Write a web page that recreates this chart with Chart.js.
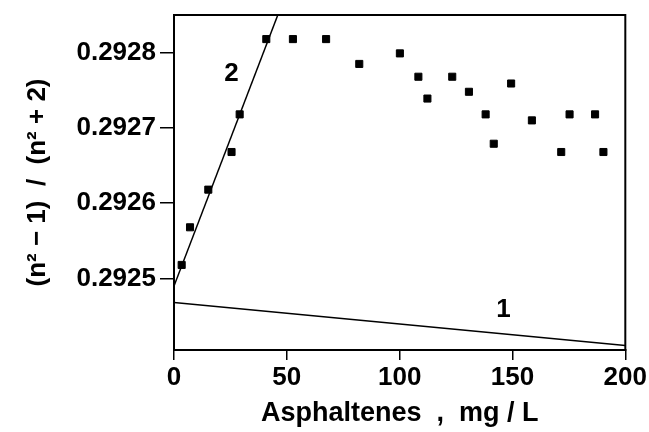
<!DOCTYPE html>
<html>
<head>
<meta charset="utf-8">
<script src="https://cdn.jsdelivr.net/npm/chart.js@4/dist/chart.umd.min.js"></script>
<style>
  html, body { margin: 0; padding: 0; background: #fff; }
  #wrap { width: 649px; height: 432px; }
</style>
</head>
<body>
<div id="wrap"><canvas id="refractChart" width="649" height="432"></canvas></div>
<script>
// measured points
const asphX = [3.4, 7.1, 15.2, 25.5, 29.1, 40.9, 52.7, 67.4, 82.1, 100.1, 108.3, 112.3, 123.3, 130.7, 138.1, 141.7, 149.4, 158.6, 171.6, 175.3, 186.6, 190.3];
const lorentzY = [0.292518, 0.292568, 0.292618, 0.292668, 0.292718, 0.292818, 0.292818, 0.292818, 0.292785, 0.292799, 0.292768, 0.292739, 0.292768, 0.292748, 0.292718, 0.292679, 0.292759, 0.292710, 0.292668, 0.292718, 0.292718, 0.292668];

// fitted lines
const line1X = [0, 200];
const line1Y = [0.292468, 0.292411];
const line2X = [0, 46];
const line2Y = [0.29249, 0.29285];

// curve labels
const curveLabels = ['1', '2'];
const curveLabelX = [146, 25.5];
const curveLabelY = [0.292458, 0.292772];

// axis ticks
const xTicks = [0, 50, 100, 150, 200];
const yTicks = [0.2925, 0.2926, 0.2927, 0.2928];

const FONT = "'Liberation Sans', Arial, sans-serif";

const toPts = (xs, ys) => xs.map((x, i) => ({ x: x, y: ys[i] }));

const frame = {
    id: 'frame',
    afterDraw(chart) {
        const { ctx, chartArea: a, scales } = chart;
        ctx.save();
        ctx.strokeStyle = '#000';
        ctx.lineWidth = 2;
        ctx.strokeRect(a.left, a.top, a.right - a.left, a.bottom - a.top);
        ctx.fillStyle = '#000';
        ctx.font = 'bold 26px ' + FONT;
        ctx.textAlign = 'center';
        ctx.textBaseline = 'middle';
        curveLabels.forEach((t, i) => {
            ctx.fillText(t, scales.x.getPixelForValue(curveLabelX[i]), scales.y.getPixelForValue(curveLabelY[i]));
        });
        ctx.restore();
    }
};

const ctx = document.getElementById('refractChart').getContext('2d');

const refractChart = new Chart(ctx, {
    type: 'scatter',
    data: {
        datasets: [{
            label: 'data',
            data: toPts(asphX, lorentzY),
            pointStyle: 'rect',
            pointRadius: 5,
            pointBackgroundColor: '#000',
            pointBorderColor: '#000',
            pointBorderWidth: 1
        }, {
            label: '1',
            data: toPts(line1X, line1Y),
            showLine: true,
            borderColor: '#000',
            borderWidth: 1.5,
            pointRadius: 0
        }, {
            label: '2',
            data: toPts(line2X, line2Y),
            showLine: true,
            borderColor: '#000',
            borderWidth: 1.5,
            pointRadius: 0
        }]
    },
    options: {
        responsive: false,
        animation: false,
        layout: { padding: { top: 15, right: 22, left: 0, bottom: 0 } },
        scales: {
            x: {
                type: 'linear',
                min: 0,
                max: 200,
                afterBuildTicks: s => { s.ticks = xTicks.map(v => ({ value: v })); },
                afterFit: s => { s.height = 82; },
                grid: { drawOnChartArea: false, drawTicks: true, tickLength: 10, color: '#000', lineWidth: 1.5 },
                border: { display: true, color: '#000', width: 2 },
                ticks: { color: '#000', padding: 2, maxRotation: 0, font: { family: FONT, size: 26, weight: 'bold' } },
                title: {
                    display: true,
                    text: 'Asphaltenes  ,  mg / L',
                    color: '#000',
                    padding: { top: 0, bottom: 2 },
                    font: { family: FONT, size: 27, weight: 'bold' }
                }
            },
            y: {
                type: 'linear',
                min: 0.292405,
                max: 0.29285,
                afterBuildTicks: s => { s.ticks = yTicks.map(v => ({ value: v })); },
                afterFit: s => { s.width = 174; s.paddingTop = 0; },
                grid: { drawOnChartArea: false, drawTicks: true, tickLength: 14, color: '#000', lineWidth: 1.5 },
                border: { display: true, color: '#000', width: 2 },
                ticks: {
                    color: '#000',
                    padding: 4,
                    font: { family: FONT, size: 26, weight: 'bold', lineHeight: 1 },
                    callback: v => v.toFixed(4)
                },
                title: {
                    display: true,
                    text: '(n² − 1)  /  (n² + 2)',
                    color: '#000',
                    padding: { top: 22, bottom: 0 },
                    font: { family: FONT, size: 26, weight: 'bold' }
                }
            }
        },
        plugins: {
            legend: { display: false },
            tooltip: { enabled: false }
        }
    },
    plugins: [frame]
});
</script>
</body>
</html>
